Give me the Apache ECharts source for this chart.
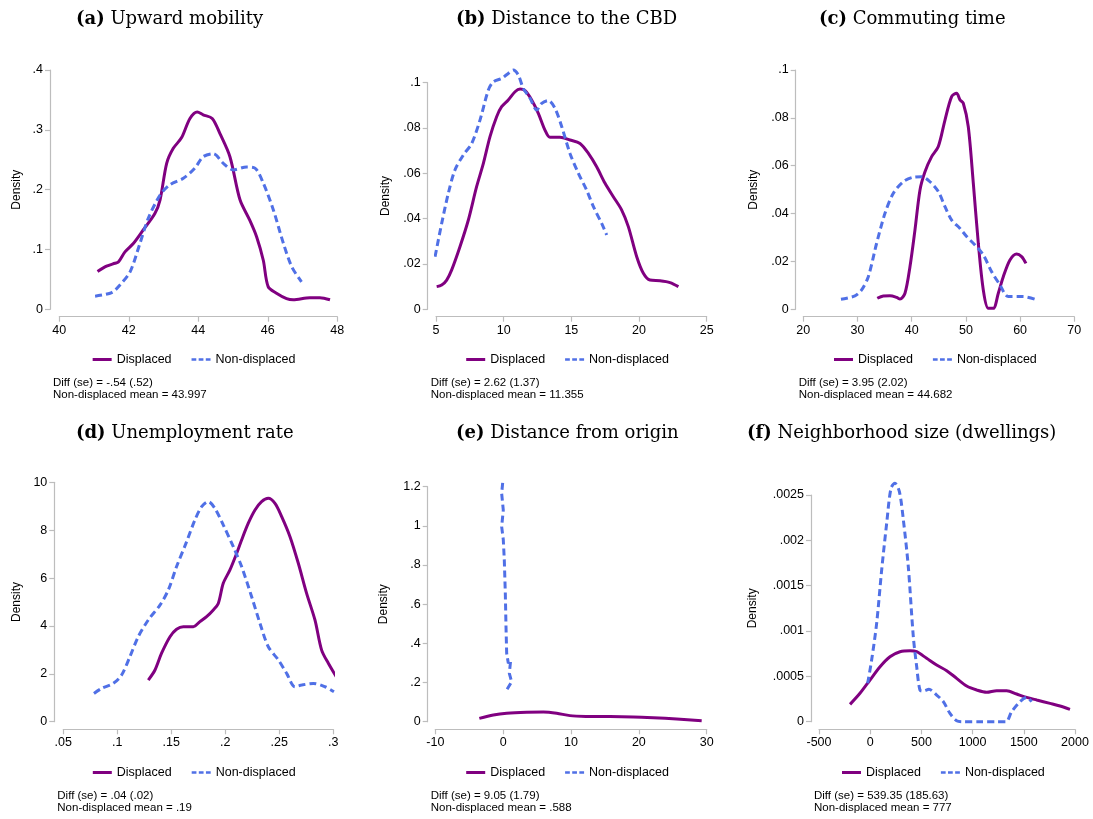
<!DOCTYPE html>
<html>
<head>
<meta charset="utf-8">
<title>Density comparisons</title>
<script src="https://cdn.jsdelivr.net/npm/echarts@6/dist/echarts.min.js"></script>
<style>
  html, body { margin: 0; padding: 0; background: #fff; }
  #main { width: 1093px; height: 819px; }
</style>
</head>
<body>
<div id="main"></div>
<script>
// panel (a) upward mobility
var aDispX = [41.10, 41.36, 41.60, 41.70, 41.89, 42.13, 42.42, 42.75, 42.90, 43.09, 43.28, 43.52, 43.76, 43.97, 44.14, 44.40, 44.62, 44.91, 45.20, 45.48, 45.68, 45.87, 46.01, 46.25, 46.54, 46.73, 47.21, 47.50, 47.79];
var aDispY = [0.063, 0.072, 0.077, 0.079, 0.096, 0.110, 0.133, 0.160, 0.183, 0.244, 0.269, 0.287, 0.319, 0.330, 0.325, 0.319, 0.294, 0.255, 0.183, 0.149, 0.121, 0.082, 0.038, 0.027, 0.018, 0.016, 0.0195, 0.0195, 0.016];
var aNonX = [41.03, 41.51, 41.75, 42.04, 42.32, 42.56, 42.90, 43.18, 43.57, 43.90, 44.14, 44.43, 44.72, 45.01, 45.39, 45.63, 45.87, 46.16, 46.45, 46.69, 46.97];
var aNonY = [0.022, 0.028, 0.041, 0.063, 0.110, 0.152, 0.191, 0.208, 0.219, 0.236, 0.255, 0.260, 0.244, 0.233, 0.238, 0.236, 0.211, 0.166, 0.110, 0.071, 0.046];

// panel (b) distance to the CBD
var bDispX = [5.05, 5.42, 5.79, 6.16, 6.77, 7.39, 8.00, 8.50, 8.99, 9.48, 9.85, 10.34, 10.84, 11.21, 11.58, 12.07, 12.56, 13.05, 13.42, 14.16, 14.90, 15.64, 16.26, 16.87, 17.49, 18.10, 18.72, 19.21, 19.83, 20.32, 20.81, 21.55, 22.29, 22.91];
var bDispY = [0.0100, 0.0107, 0.0129, 0.0174, 0.0276, 0.0394, 0.0541, 0.0644, 0.0762, 0.0850, 0.0894, 0.0924, 0.0960, 0.0972, 0.0965, 0.0924, 0.0865, 0.0791, 0.0759, 0.0759, 0.0747, 0.0732, 0.0688, 0.0629, 0.0556, 0.0497, 0.0438, 0.0365, 0.0232, 0.0159, 0.0129, 0.0126, 0.0118, 0.0100];
var bNonX = [4.93, 5.42, 5.91, 6.40, 7.02, 7.64, 8.25, 8.87, 9.24, 9.85, 10.34, 10.71, 11.08, 11.45, 11.95, 12.44, 12.81, 13.30, 13.79, 14.29, 14.90, 15.52, 16.13, 16.63, 17.24, 17.61];
var bNonY = [0.0232, 0.0379, 0.0512, 0.0615, 0.0681, 0.0732, 0.0835, 0.0968, 0.1004, 0.1019, 0.1041, 0.1056, 0.1034, 0.0975, 0.0931, 0.0879, 0.0909, 0.0921, 0.0887, 0.0806, 0.0688, 0.0600, 0.0526, 0.0453, 0.0379, 0.0328];

// panel (c) commuting time
var cDispX = [33.65, 34.76, 35.99, 37.22, 37.84, 38.76, 39.68, 40.60, 41.53, 42.45, 43.68, 44.91, 46.14, 47.37, 48.29, 48.91, 49.52, 50.44, 51.37, 52.29, 53.21, 54.13, 55.06, 55.98, 56.90, 58.13, 59.36, 60.28, 61.08];
var cDispY = [0.0046, 0.0056, 0.0057, 0.0050, 0.0043, 0.0067, 0.0178, 0.0331, 0.0499, 0.0575, 0.0638, 0.0680, 0.0791, 0.0889, 0.0903, 0.0875, 0.0861, 0.0763, 0.0526, 0.0276, 0.0081, 0.0004, 0.0004, 0.0067, 0.0136, 0.0206, 0.0231, 0.0220, 0.0192];
var cNonX = [26.95, 29.53, 30.76, 31.99, 33.53, 35.07, 36.61, 38.45, 40.30, 41.83, 43.37, 44.91, 46.14, 47.37, 48.91, 50.14, 51.67, 53.21, 54.75, 56.29, 57.82, 60.59, 62.74];
var cNonY = [0.0042, 0.0056, 0.0081, 0.0136, 0.0276, 0.0401, 0.0485, 0.0533, 0.0552, 0.0554, 0.0533, 0.0492, 0.0429, 0.0373, 0.0338, 0.0304, 0.0269, 0.0227, 0.0157, 0.0102, 0.0053, 0.0053, 0.0042];

// panel (d) unemployment rate
var dDispX = [0.1287, 0.1349, 0.1410, 0.1488, 0.1549, 0.1611, 0.1704, 0.1765, 0.1827, 0.1889, 0.1935, 0.1981, 0.2043, 0.2105, 0.2151, 0.2213, 0.2275, 0.2336, 0.2398, 0.2460, 0.2522, 0.2599, 0.2676, 0.2753, 0.2830, 0.2892, 0.2954, 0.3037];
var dDispY = [1.74, 2.16, 2.86, 3.55, 3.86, 3.97, 3.97, 4.18, 4.39, 4.67, 4.94, 5.78, 6.34, 7.03, 7.59, 8.29, 8.84, 9.19, 9.33, 9.12, 8.57, 7.73, 6.62, 5.36, 4.25, 2.99, 2.44, 1.81];
var dNonX = [0.0784, 0.0855, 0.0963, 0.1040, 0.1117, 0.1194, 0.1287, 0.1395, 0.1472, 0.1549, 0.1642, 0.1719, 0.1781, 0.1843, 0.1904, 0.1981, 0.2074, 0.2151, 0.2244, 0.2321, 0.2398, 0.2491, 0.2568, 0.2645, 0.2707, 0.2815, 0.2923, 0.3006];
var dNonY = [1.18, 1.39, 1.60, 1.95, 2.72, 3.55, 4.25, 4.87, 5.50, 6.48, 7.52, 8.43, 8.98, 9.19, 8.91, 8.22, 7.31, 6.48, 5.22, 4.11, 3.13, 2.58, 2.02, 1.46, 1.53, 1.60, 1.46, 1.25];

// panel (e) distance from origin
var eDispX = [-3.51, -1.45, 0.52, 3.46, 5.92, 7.89, 9.85, 12.31, 15.75, 19.19, 22.14, 25.58, 29.26];
var eDispY = [0.017, 0.034, 0.043, 0.048, 0.049, 0.043, 0.031, 0.027, 0.026, 0.024, 0.020, 0.014, 0.005];
var eNonX = [-0.07, -0.22, 0.02, -0.22, 0.02, 0.17, 0.32, 0.42, 0.52, 0.76, 1.11, 0.91, 1.25, 0.52];
var eNonY = [1.22, 1.166, 1.08, 0.996, 0.93, 0.826, 0.655, 0.485, 0.349, 0.298, 0.315, 0.247, 0.204, 0.162];

// panel (f) neighborhood size
var fDispX = [-197, -100, -2, 96, 193, 291, 389, 454, 551, 649, 747, 844, 942, 1040, 1137, 1235, 1333, 1430, 1528, 1626, 1756, 1854, 1951];
var fDispY = [0.000191, 0.000313, 0.000460, 0.000607, 0.000717, 0.000772, 0.000783, 0.000772, 0.000699, 0.000625, 0.000563, 0.000478, 0.000393, 0.000349, 0.000324, 0.000342, 0.000342, 0.000305, 0.000268, 0.000239, 0.000202, 0.000173, 0.000136];
var fNonX = [-25, 14, 63, 112, 161, 203, 242, 285, 324, 372, 421, 454, 486, 519, 574, 649, 714, 779, 844, 910, 1072, 1235, 1326, 1381, 1463, 1528, 1577];
var fNonY = [0.000423, 0.000680, 0.001085, 0.001673, 0.002188, 0.002574, 0.002629, 0.002537, 0.002224, 0.001710, 0.000938, 0.000607, 0.000349, 0.000338, 0.000357, 0.000294, 0.000221, 0.000092, 0.000011, 0, 0, 0, 0, 0.000110, 0.000221, 0.000268, 0.000221];

var titles = ['(a)|Upward mobility', '(b)|Distance to the CBD', '(c)|Commuting time',
              '(d)|Unemployment rate', '(e)|Distance from origin', '(f)|Neighborhood size (dwellings)'];
var notes = [
    ['Diff (se) = -.54 (.52)', 'Non-displaced mean = 43.997'],
    ['Diff (se) = 2.62 (1.37)', 'Non-displaced mean = 11.355'],
    ['Diff (se) = 3.95 (2.02)', 'Non-displaced mean = 44.682'],
    ['Diff (se) = .04 (.02)', 'Non-displaced mean = .19'],
    ['Diff (se) = 9.05 (1.79)', 'Non-displaced mean = .588'],
    ['Diff (se) = 539.35 (185.63)', 'Non-displaced mean = 777']
];
var xRanges = [[40, 48, 2], [5, 25, 5], [20, 70, 10], [0.05, 0.3, 0.05], [-10, 30, 10], [-500, 2000, 500]];
var yRanges = [[0, 0.4, 0.1], [0, 0.1, 0.02], [0, 0.1, 0.02], [0, 10, 2], [0, 1.2, 0.2], [0, 0.0025, 0.0005]];

var displaced = [[aDispX, aDispY], [bDispX, bDispY], [cDispX, cDispY], [dDispX, dDispY], [eDispX, eDispY], [fDispX, fDispY]];
var nondisplaced = [[aNonX, aNonY], [bNonX, bNonY], [cNonX, cNonY], [dNonX, dNonY], [eNonX, eNonY], [fNonX, fNonY]];

// plot boxes
var boxes = [
    {left: 59.3, top: 70, width: 278, height: 239.3, yOff: 9.3, nameGap: 27},
    {left: 436, top: 82.7, width: 270.7, height: 226.6, yOff: 8.3, nameGap: 36},
    {left: 803.3, top: 70, width: 271, height: 239.3, yOff: 7.6, nameGap: 36},
    {left: 63.3, top: 482.3, width: 270, height: 239.4, yOff: 9, nameGap: 32},
    {left: 435.3, top: 486.7, width: 271.4, height: 235, yOff: 7.6, nameGap: 38},
    {left: 819, top: 495, width: 256, height: 226.7, yOff: 8, nameGap: 52}
];
var titlePos = [[71, 5], [451, 5], [814, 5], [71, 419], [451, 419], [742, 419]];

var purple = '#800080';
var blue = '#5070e6';
var axisGray = '#bdbdbd';
var sans = 'Liberation Sans, Arial, Helvetica, sans-serif';
var dashIcon = 'path://M0 0h6v3H0z M9 0h6v3H9z M18 0h6v3h-6z';

function stataNum(v) {
    var s = String(+v.toFixed(6));
    return s.replace(/^0\./, '.').replace(/^-0\./, '-.');
}

function zip(xs, ys) {
    return xs.map(function (x, i) { return [x, ys[i]]; });
}

var grid = [], xAxis = [], yAxis = [], series = [], title = [], legend = [], graphic = [];

boxes.forEach(function (b, i) {
    var row = i < 3 ? 0 : 1;
    grid.push({left: b.left, top: b.top, width: b.width, height: b.height, containLabel: false});
    xAxis.push({
        type: 'value', gridIndex: i,
        min: xRanges[i][0], max: xRanges[i][1], interval: xRanges[i][2],
        offset: row === 0 ? 7.4 : 7.6,
        axisLine: {show: true, onZero: false, lineStyle: {color: axisGray, width: 1.2}},
        axisTick: {show: true, length: 5, lineStyle: {color: axisGray, width: 1.2}},
        axisLabel: {color: '#000', fontSize: 12.5, fontFamily: sans, margin: 7, formatter: stataNum},
        splitLine: {show: false}
    });
    yAxis.push({
        type: 'value', gridIndex: i,
        min: yRanges[i][0], max: yRanges[i][1], interval: yRanges[i][2],
        offset: b.yOff,
        name: 'Density', nameLocation: 'middle', nameGap: b.nameGap,
        nameTextStyle: {color: '#000', fontSize: 12, fontFamily: sans},
        axisLine: {show: true, onZero: false, lineStyle: {color: axisGray, width: 1.2}},
        axisTick: {show: true, length: 5, lineStyle: {color: axisGray, width: 1.2}},
        axisLabel: {color: '#000', fontSize: 12.5, fontFamily: sans, margin: 7, formatter: stataNum},
        splitLine: {show: false}
    });
    series.push({
        name: 'Displaced', type: 'line', xAxisIndex: i, yAxisIndex: i,
        data: zip(displaced[i][0], displaced[i][1]),
        smooth: 0.3, symbol: 'none', clip: false,
        lineStyle: {color: purple, width: 3},
        itemStyle: {color: purple}
    });
    series.push({
        name: 'Non-displaced', type: 'line', xAxisIndex: i, yAxisIndex: i,
        data: zip(nondisplaced[i][0], nondisplaced[i][1]),
        smooth: i === 4 ? false : 0.3, symbol: 'none', clip: false,
        lineStyle: {color: blue, width: 3, type: [7, 4]},
        itemStyle: {color: blue}
    });
    var t = titles[i].split('|');
    title.push({
        text: '{b|' + t[0] + '} ' + t[1],
        left: titlePos[i][0], top: titlePos[i][1],
        textStyle: {
            fontFamily: 'DejaVu Serif, serif', fontSize: 18, fontWeight: 'normal', color: '#000',
            rich: {b: {fontFamily: 'DejaVu Serif, serif', fontSize: 18, fontWeight: 'bold', color: '#000'}}
        }
    });
    var cx = b.left - b.yOff + (b.width + b.yOff) / 2;
    legend.push({
        data: [{name: 'Displaced', icon: 'rect'}, {name: 'Non-displaced', icon: dashIcon}],
        left: cx - 106, top: row === 0 ? 348 : 761,
        itemWidth: 19, itemHeight: 3, itemGap: 20,
        textStyle: {color: '#000', fontSize: 12.5, fontFamily: sans},
        selectedMode: false
    });
    graphic.push({
        type: 'text',
        left: b.left - b.yOff + 3,
        top: row === 0 ? 377 : 790,
        style: {text: notes[i].join('\n'), fill: '#000', font: '11.5px ' + sans, lineHeight: 11.5}
    });
});

var chart = echarts.init(document.getElementById('main'));
chart.setOption({
    backgroundColor: '#fff',
    animation: false,
    title: title,
    legend: legend,
    grid: grid,
    xAxis: xAxis,
    yAxis: yAxis,
    series: series,
    graphic: graphic
});
</script>
</body>
</html>
